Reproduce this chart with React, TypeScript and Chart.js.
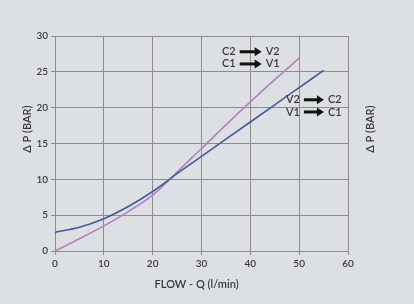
import React, { useEffect, useRef } from "react";
import { Chart, registerables } from "chart.js";

Chart.register(...registerables);

const flowPurple = [0, 5, 10, 15, 20, 25, 30, 35, 40, 45, 50];
const dpPurple = [0, 1.7, 3.5, 5.5, 7.8, 11.0, 14.3, 17.6, 20.8, 23.9, 26.9];
const flowBlue = [0, 5, 10, 15, 20, 25, 30, 35, 40, 45, 50, 55];
const dpBlue = [2.6, 3.3, 4.5, 6.2, 8.3, 10.8, 13.2, 15.6, 18.0, 20.4, 22.8, 25.2];
const xTicks = [0, 10, 20, 30, 40, 50, 60];
const yTicks = [0, 5, 10, 15, 20, 25, 30];
const xTitle = "FLOW - Q (l/min)";
const yTitle = "Δ P (BAR)";
const labelsTop = [
  { from: "C2", to: "V2", x: 34.2, y: 27.8 },
  { from: "C1", to: "V1", x: 34.2, y: 26.1 },
];
const labelsBottom = [
  { from: "V2", to: "C2", x: 47.3, y: 21.1 },
  { from: "V1", to: "C1", x: 47.3, y: 19.4 },
];

const FONT = "Lato, 'DejaVu Sans', sans-serif";
const TEXT = "#3a3a3a";

const annot = {
  id: "annot",
  afterDraw(chart: any) {
    const { ctx, scales, chartArea } = chart;
    const xs = scales.x;
    const ys = scales.y;
    ctx.save();
    ctx.fillStyle = TEXT;
    ctx.font = `600 11px ${FONT}`;
    ctx.textBaseline = "middle";
    const drawRow = (r: any, gap: number, arrowLen: number) => {
      const px = xs.getPixelForValue(r.x);
      const py = ys.getPixelForValue(r.y);
      ctx.fillStyle = TEXT;
      ctx.textAlign = "left";
      ctx.fillText(r.from, px, py);
      const w = ctx.measureText(r.from).width;
      const ax0 = px + w + gap;
      const ax1 = ax0 + arrowLen;
      ctx.fillStyle = "#111";
      ctx.fillRect(ax0, py - 1.5, arrowLen - 6, 3);
      ctx.beginPath();
      ctx.moveTo(ax1 - 7, py - 4.5);
      ctx.lineTo(ax1, py);
      ctx.lineTo(ax1 - 7, py + 4.5);
      ctx.closePath();
      ctx.fill();
      ctx.fillStyle = TEXT;
      ctx.fillText(r.to, ax1 + gap, py);
    };
    labelsTop.forEach((r) => drawRow(r, 4, 22));
    labelsBottom.forEach((r) => drawRow(r, 4, 20));

    // axis titles
    ctx.fillStyle = TEXT;
    ctx.font = `600 11px ${FONT}`;
    ctx.textAlign = "center";
    ctx.textBaseline = "middle";
    const cy = ys.getPixelForValue(17);
    ctx.save();
    ctx.translate(27, cy);
    ctx.rotate(-Math.PI / 2);
    ctx.fillText(yTitle, 0, 0);
    ctx.restore();
    ctx.save();
    ctx.translate(chartArea.right + 22, cy);
    ctx.rotate(-Math.PI / 2);
    ctx.fillText(yTitle, 0, 0);
    ctx.restore();
    ctx.fillText(xTitle, xs.getPixelForValue(29), chartArea.bottom + 33);
    ctx.restore();
  },
};

export default function App() {
  const ref = useRef<HTMLCanvasElement>(null);
  useEffect(() => {
    document.body.style.margin = "0";
    const c = new Chart(ref.current!, {
      type: "line",
      data: {
        datasets: [
          {
            data: flowBlue.map((x, i) => ({ x, y: dpBlue[i] })),
            borderColor: "#3f5a9f",
            borderWidth: 1.6,
            pointRadius: 0,
            cubicInterpolationMode: "monotone",
          },
          {
            data: flowPurple.map((x, i) => ({ x, y: dpPurple[i] })),
            borderColor: "#b47ebf",
            borderWidth: 1.6,
            pointRadius: 0,
            cubicInterpolationMode: "monotone",
          },
        ],
      },
      options: {
        animation: false,
        responsive: false,
        layout: { padding: { left: 0, right: 66, top: 36, bottom: 0 } },
        plugins: { legend: { display: false }, tooltip: { enabled: false } },
        scales: {
          x: {
            type: "linear",
            min: 0,
            max: 60,
            afterFit: (s: any) => {
              s.height = 53;
            },
            afterBuildTicks: (s: any) => {
              s.ticks = xTicks.map((v) => ({ value: v }));
            },
            grid: { color: "#8c8c8c", lineWidth: 1, tickLength: 4 },
            border: { color: "#8c8c8c" },
            ticks: { color: TEXT, font: { family: FONT, size: 10, weight: "600" }, padding: 3, maxRotation: 0 },
          },
          y: {
            min: 0,
            max: 30,
            afterFit: (s: any) => {
              s.width = 55;
            },
            afterBuildTicks: (s: any) => {
              s.ticks = yTicks.map((v) => ({ value: v }));
            },
            grid: { color: "#8c8c8c", lineWidth: 1, tickLength: 4 },
            border: { color: "#8c8c8c" },
            ticks: { color: TEXT, font: { family: FONT, size: 10, weight: "600" }, padding: 3 },
          },
        },
      },
      plugins: [annot],
    });
    return () => c.destroy();
  }, []);
  return (
    <div style={{ width: 414, height: 304, background: "#dde0e3" }}>
      <canvas ref={ref} width={414} height={304} style={{ display: "block" }} />
    </div>
  );
}
